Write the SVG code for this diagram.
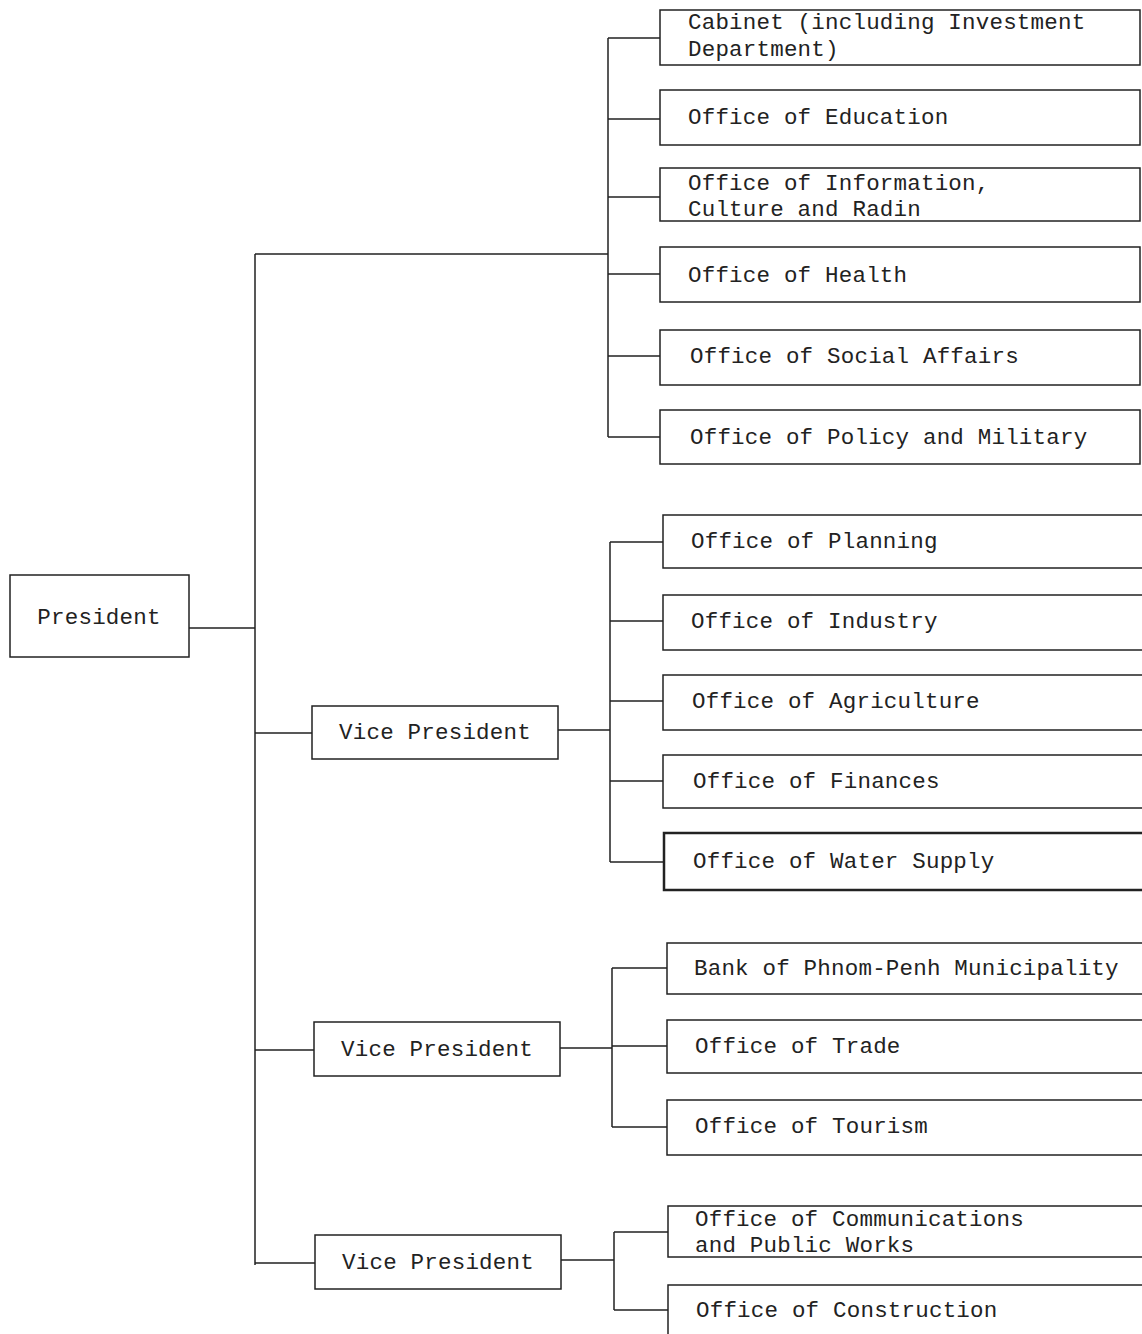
<svg xmlns="http://www.w3.org/2000/svg" width="1142" height="1334" viewBox="0 0 1142 1334">
<style>
.b{fill:#fff;stroke:#222;stroke-width:1.5}
.t{font-family:"Liberation Mono","Courier New",monospace;font-size:22.5px;letter-spacing:0.2px;fill:#222}
.c{fill:none;stroke:#222;stroke-width:1.5}
</style>
<rect width="1142" height="1334" fill="#fff"/>
<g id="connectors" class="c">
<path d="M189 628H255M255 254V1265M255 254H608M608 38V437"/>
<path d="M608 38H660M608 119H660M608 197H660M608 274H660M608 356H660M608 437H660"/>
<path d="M255 733H312M558 730H610M610 542V862M610 542H663M610 621H663M610 701H663M610 781H663M610 862H663"/>
<path d="M255 1050H314M560 1048H612M612 968V1127M612 968H667M612 1046H667M612 1127H667"/>
<path d="M255 1263H315M561 1260H614M614 1232V1310M614 1232H668M614 1310H668"/>
</g>
<g id="president"><rect class="b" x="10" y="575" width="179" height="82"/><text class="t" x="99" y="624" text-anchor="middle">President</text></g>
<g id="cabinet"><rect class="b" x="660" y="10" width="480" height="55"/><text class="t" x="688" y="29">Cabinet (including Investment</text><text class="t" x="688" y="56">Department)</text></g>
<g id="education"><rect class="b" x="660" y="90" width="480" height="55"/><text class="t" x="688" y="124">Office of Education</text></g>
<g id="information"><rect class="b" x="660" y="168" width="480" height="53"/><text class="t" x="688" y="190">Office of Information,</text><text class="t" x="688" y="216">Culture and Radin</text></g>
<g id="health"><rect class="b" x="660" y="247" width="480" height="55"/><text class="t" x="688" y="282">Office of Health</text></g>
<g id="social"><rect class="b" x="660" y="330" width="480" height="55"/><text class="t" x="690" y="363">Office of Social Affairs</text></g>
<g id="policy"><rect class="b" x="660" y="410" width="480" height="54"/><text class="t" x="690" y="444">Office of Policy and Military</text></g>
<g id="vp1"><rect class="b" x="312" y="706" width="246" height="53"/><text class="t" x="435" y="739" text-anchor="middle">Vice President</text></g>
<g id="planning"><rect class="b" x="663" y="515" width="480" height="53"/><text class="t" x="691" y="548">Office of Planning</text></g>
<g id="industry"><rect class="b" x="663" y="595" width="480" height="55"/><text class="t" x="691" y="628">Office of Industry</text></g>
<g id="agriculture"><rect class="b" x="663" y="675" width="480" height="55"/><text class="t" x="692" y="708">Office of Agriculture</text></g>
<g id="finances"><rect class="b" x="663" y="755" width="480" height="53"/><text class="t" x="693" y="788">Office of Finances</text></g>
<g id="water"><rect class="b" x="664" y="833" width="480" height="57" style="stroke-width:2.5"/><text class="t" x="693" y="868">Office of Water Supply</text></g>
<g id="vp2"><rect class="b" x="314" y="1022" width="246" height="54"/><text class="t" x="437" y="1056" text-anchor="middle">Vice President</text></g>
<g id="bank"><rect class="b" x="667" y="943" width="480" height="51"/><text class="t" x="694" y="975">Bank of Phnom-Penh Municipality</text></g>
<g id="trade"><rect class="b" x="667" y="1020" width="480" height="53"/><text class="t" x="695" y="1053">Office of Trade</text></g>
<g id="tourism"><rect class="b" x="667" y="1100" width="480" height="55"/><text class="t" x="695" y="1133">Office of Tourism</text></g>
<g id="vp3"><rect class="b" x="315" y="1235" width="246" height="54"/><text class="t" x="438" y="1269" text-anchor="middle">Vice President</text></g>
<g id="communications"><rect class="b" x="668" y="1206" width="480" height="51"/><text class="t" x="695" y="1226">Office of Communications</text><text class="t" x="695" y="1252">and Public Works</text></g>
<g id="construction"><rect class="b" x="668" y="1285" width="480" height="60"/><text class="t" x="696" y="1317">Office of Construction</text></g>
</svg>
